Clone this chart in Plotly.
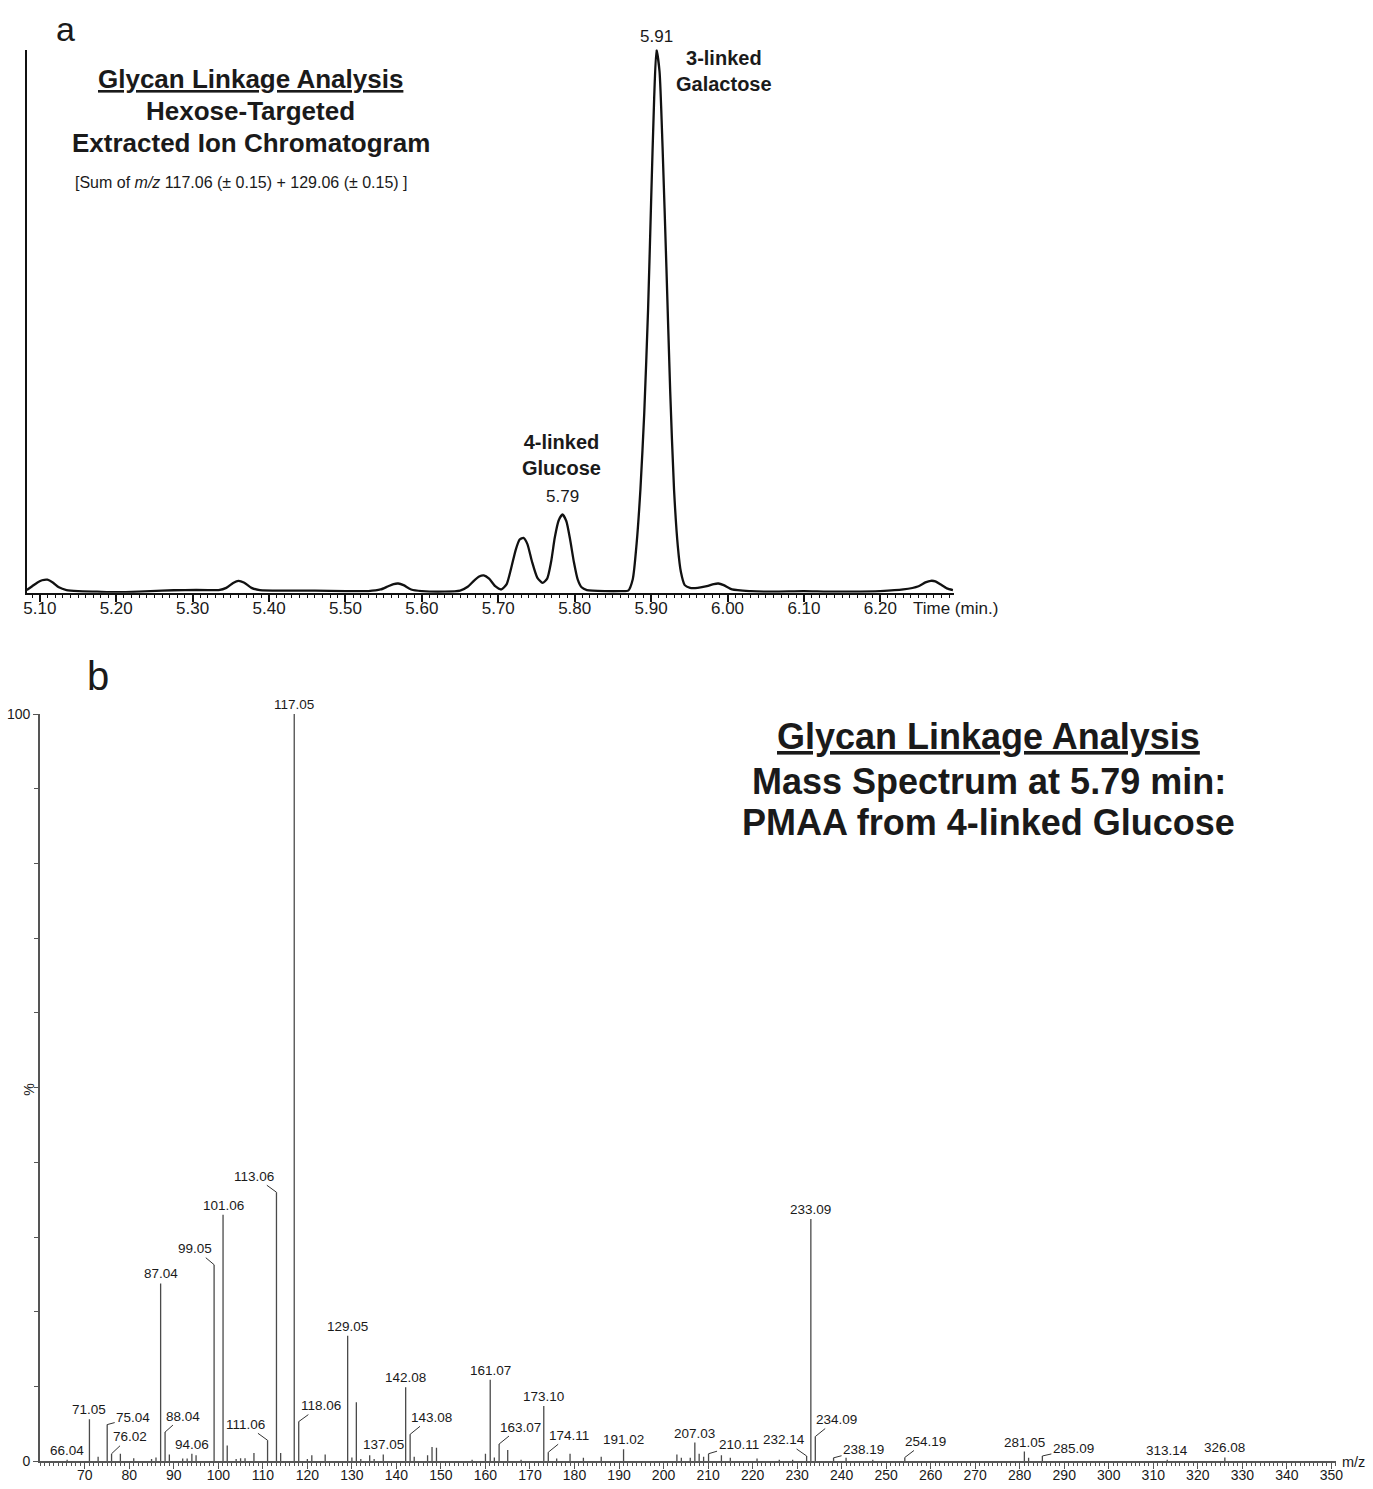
import plotly.graph_objects as go

# ---------------- data: chromatogram (panel a) ----------------
rt_min = [5.083, 5.090, 5.097, 5.103, 5.110, 5.117, 5.125, 5.135, 5.150, 5.175, 5.200, 5.230,
          5.260, 5.290, 5.320, 5.334, 5.344, 5.353, 5.360, 5.367, 5.377, 5.388, 5.420, 5.460,
          5.500, 5.530, 5.546, 5.556, 5.563, 5.569, 5.576, 5.586, 5.600, 5.630, 5.650, 5.660,
          5.668, 5.675, 5.681, 5.688, 5.696, 5.704, 5.711, 5.717, 5.723, 5.728, 5.733, 5.738,
          5.744, 5.751, 5.758, 5.764, 5.769, 5.774, 5.779, 5.784, 5.789, 5.794, 5.799, 5.804,
          5.809, 5.816, 5.840, 5.860, 5.870, 5.876, 5.881, 5.886, 5.891, 5.896, 5.900, 5.904,
          5.907, 5.911, 5.915, 5.920, 5.925, 5.930, 5.935, 5.939, 5.944, 5.951, 5.961, 5.973,
          5.982, 5.988, 5.995, 6.006, 6.030, 6.060, 6.100, 6.130, 6.160, 6.200, 6.230, 6.250,
          6.259, 6.266, 6.272, 6.279, 6.287, 6.295]
rel_abund = [0.5, 1.2, 1.9, 2.3, 2.4, 1.9, 1.0, 0.5, 0.3, 0.2, 0.1, 0.2,
             0.4, 0.5, 0.5, 0.5, 0.9, 1.8, 2.2, 1.9, 0.9, 0.5, 0.4, 0.4,
             0.3, 0.3, 0.6, 1.2, 1.6, 1.7, 1.4, 0.6, 0.3, 0.2, 0.4, 1.1,
             2.2, 3.0, 3.2, 2.6, 1.2, 0.6, 1.6, 4.6, 8.0, 9.8, 10.1, 9.0,
             5.8, 2.8, 1.8, 2.6, 5.6, 10.2, 13.3, 14.4, 13.2, 9.8, 5.6, 2.4,
             1.0, 0.5, 0.3, 0.3, 0.4, 2.5, 9.0, 19.0, 33.0, 52.0, 72.0, 91.0,
             100.0, 96.0, 82.0, 60.0, 37.0, 19.0, 8.5, 3.8, 1.4, 0.9, 0.9, 1.2,
             1.6, 1.7, 1.4, 0.6, 0.3, 0.2, 0.3, 0.2, 0.2, 0.3, 0.6, 1.2,
             1.9, 2.2, 2.1, 1.5, 0.8, 0.5]
rt_tick_vals = [5.10, 5.20, 5.30, 5.40, 5.50, 5.60, 5.70, 5.80, 5.90, 6.00, 6.10, 6.20]
rt_tick_text = ["5.10", "5.20", "5.30", "5.40", "5.50", "5.60", "5.70", "5.80", "5.90", "6.00", "6.10", "6.20"]

# ---------------- data: mass spectrum (panel b) ----------------
ms_mz = [66.04, 71.05, 73, 75.04, 76.02, 78, 81, 85, 86, 87.04, 88.04, 89, 92, 93, 94.06, 95,
         99.05, 101.06, 102, 104, 105, 106, 108, 111.06, 113.06, 114, 117.05, 118.06, 120, 121,
         124, 129.05, 130, 131, 132, 134, 135, 137.05, 142.08, 143.08, 144, 147, 148, 149,
         157, 160, 161.07, 162, 163.07, 165, 168, 173.10, 174.11, 176, 179, 182, 186, 191.02,
         203, 204, 206, 207.03, 208, 209, 210.11, 213, 215, 221, 226, 229, 232.14, 233.09,
         234.09, 238.19, 241, 247, 254.19, 281.05, 282, 285.09, 313.14, 326.08]
ms_int = [0.2, 5.6, 0.6, 4.9, 1.0, 1.0, 0.4, 0.3, 0.5, 23.8, 3.9, 0.9, 0.35, 0.35, 1.0, 0.8,
          26.3, 33.0, 2.1, 0.3, 0.4, 0.4, 1.1, 2.8, 36.0, 1.1, 100.0, 5.3, 0.3, 0.8,
          0.9, 16.8, 0.5, 7.9, 0.3, 0.8, 0.3, 0.9, 9.9, 3.6, 0.6, 0.8, 1.9, 1.8,
          0.2, 1.0, 10.9, 0.5, 2.3, 1.5, 0.2, 7.4, 1.2, 0.35, 1.0, 0.45, 0.6, 1.6,
          0.9, 0.45, 0.45, 2.5, 1.0, 0.6, 1.0, 0.8, 0.45, 0.35, 0.2, 0.2, 0.7, 32.4,
          3.3, 0.45, 0.45, 0.2, 0.5, 1.3, 0.45, 0.7, 0.2, 0.5]
ms_labels = ["66.04", "71.05", "75.04", "76.02", "87.04", "88.04", "94.06", "99.05", "101.06",
             "111.06", "113.06", "117.05", "118.06", "129.05", "137.05", "142.08", "143.08",
             "161.07", "163.07", "173.10", "174.11", "191.02", "207.03", "210.11", "232.14",
             "233.09", "234.09", "238.19", "254.19", "281.05", "285.09", "313.14", "326.08"]
mz_tick_vals = list(range(70, 351, 10))

# ---------------- layout helpers (target pixel -> paper) ----------------
W, H = 1373, 1489

def page_x(x):
    return x / 0.9939 - 3.18

def page_y(y):
    return y * 1.01316 - 8.7

def px(x):
    return page_x(x) / W

def py(y):
    return 1 - page_y(y) / H

def pyp(p):                 # direct page pixel -> paper
    return 1 - p / H

FONT = "Liberation Sans, Arial, Helvetica, sans-serif"
INK = "#1a1a1a"

# leader-line offsets (pixels) for labels drawn beside their peak
leader = {
    "75.04": (26, -7), "76.02": (18, -17), "88.04": (18, -16), "99.05": (-19, -16),
    "111.06": (-22, -16), "113.06": (-22, -16), "118.06": (22, -16), "143.08": (21, -17),
    "163.07": (21, -17), "174.11": (21, -17), "210.11": (30, -9), "232.14": (-23, -16),
    "234.09": (21, -17), "238.19": (30, -8), "254.19": (21, -16), "285.09": (31, -7),
}

fig = go.Figure()

fig.add_trace(go.Scatter(
    x=rt_min, y=rel_abund, mode="lines", xaxis="x", yaxis="y", cliponaxis=False,
    line=dict(color="#111111", width=2.3, shape="spline", smoothing=0.6),
    hoverinfo="skip", showlegend=False))

xs, ys = [], []
for m, v in zip(ms_mz, ms_int):
    xs += [m, m, None]
    ys += [0, v, None]
fig.add_trace(go.Scatter(
    x=xs, y=ys, mode="lines", xaxis="x2", yaxis="y2", cliponaxis=False,
    line=dict(color="#4a4a4a", width=1.3), hoverinfo="skip", showlegend=False))

ann = []
def txt(x, y, t, size, **kw):
    d = dict(x=px(x), y=py(y), xref="paper", yref="paper", text=t, showarrow=False,
             font=dict(family=FONT, size=size, color=INK),
             xanchor="center", yanchor="middle")
    d.update(kw)
    ann.append(d)

# panel a texts
ann.append(dict(x=px(66), y=pyp(0.5), xref="paper", yref="paper", text="a", showarrow=False,
                xanchor="center", yanchor="top", font=dict(family=FONT, size=34, color=INK)))
txt(251, 79, "<u><b>Glycan Linkage Analysis</b></u>", 26)
txt(251, 111, "<b>Hexose-Targeted</b>", 26)
txt(251, 143, "<b>Extracted Ion Chromatogram</b>", 26)
txt(242, 183, "[Sum of <i>m/z</i> 117.06 (± 0.15) + 129.06 (± 0.15) ]", 16)
txt(725, 71, "<b>3-linked</b><br><b>Galactose</b>", 20)
txt(562, 455, "<b>4-linked</b><br><b>Glucose</b>", 20)
txt(957, 608, "Time (min.)", 17)
ann.append(dict(x=5.907, y=100, xref="x", yref="y", text="5.91", showarrow=False,
                yanchor="bottom", yshift=2, font=dict(family=FONT, size=17, color=INK)))
ann.append(dict(x=5.784, y=14.4, xref="x", yref="y", text="5.79", showarrow=False,
                yanchor="bottom", yshift=7, font=dict(family=FONT, size=17, color=INK)))

# panel b texts
txt(98, 675, "b", 40)
txt(990, 735, "<u><b>Glycan Linkage Analysis</b></u>", 36)
txt(990, 780, "<b>Mass Spectrum at 5.79 min:</b>", 36)
txt(990, 821, "<b>PMAA from 4-linked Glucose</b>", 36)
txt(29, 1088, "%", 14, textangle=-90)
ann.append(dict(x=1360 / W, y=pyp(1470), xref="paper", yref="paper", text="m/z", showarrow=False,
                xanchor="center", yanchor="middle", font=dict(family=FONT, size=14.5, color=INK)))

for lab in ms_labels:
    m = float(lab)
    idx = min(range(len(ms_mz)), key=lambda k: abs(ms_mz[k] - m))
    v = ms_int[idx]
    f = dict(family=FONT, size=13.5, color=INK)
    if lab in leader:
        ax, ay = leader[lab]
        ann.append(dict(x=m, y=v, xref="x2", yref="y2", text=lab, showarrow=True,
                        arrowhead=0, arrowwidth=1, arrowcolor="#333333",
                        ax=ax, ay=ay, font=f, standoff=0))
    else:
        ann.append(dict(x=m, y=v, xref="x2", yref="y2", text=lab, showarrow=False,
                        yanchor="bottom", yshift=0, font=f))

fig.update_layout(
    width=W, height=H, margin=dict(l=0, r=0, t=0, b=0),
    paper_bgcolor="white", plot_bgcolor="white", showlegend=False,
    annotations=ann,
    xaxis=dict(domain=[px(27), px(955)], anchor="y", range=[5.083, 6.296],
               showline=True, linecolor="#111111", linewidth=2, showgrid=False, zeroline=False,
               tickmode="array", tickvals=rt_tick_vals, ticktext=rt_tick_text,
               ticks="outside", ticklen=7, tickwidth=1.5, tickcolor="#111111",
               ticklabelstandoff=-8,
               minor=dict(dtick=0.01, tick0=5.10, ticks="outside", ticklen=3.5,
                          tickwidth=1, tickcolor="#111111", showgrid=False),
               tickfont=dict(family=FONT, size=17, color=INK)),
    yaxis=dict(domain=[py(592), py(50)], anchor="x", range=[0, 100],
               showline=True, linecolor="#111111", linewidth=2, showgrid=False, zeroline=False,
               ticks="", showticklabels=False),
    xaxis2=dict(domain=[px(40), px(1338)], anchor="y2", range=[59.9, 351.1],
                showline=True, linecolor="#555555", linewidth=1.5, showgrid=False, zeroline=False,
                tickmode="array", tickvals=mz_tick_vals,
                ticks="outside", ticklen=6, tickwidth=1, tickcolor="#555555",
                ticklabelstandoff=-6,
                minor=dict(dtick=1, tick0=60, ticks="outside", ticklen=3,
                           tickwidth=1, tickcolor="#555555", showgrid=False),
                tickfont=dict(family=FONT, size=14, color=INK)),
    yaxis2=dict(domain=[pyp(1469), py(713)], anchor="x2", range=[0, 100],
                showline=True, linecolor="#555555", linewidth=1.5, showgrid=False, zeroline=False,
                tickmode="array", tickvals=[0, 100], ticktext=["0", "100"],
                ticks="outside", ticklen=5, tickwidth=1, tickcolor="#555555",
                minor=dict(dtick=10, tick0=0, ticks="outside", ticklen=4,
                           tickwidth=1, tickcolor="#555555", showgrid=False),
                tickfont=dict(family=FONT, size=14, color=INK)),
)

fig.write_html(
    "out.html",
    config={"displayModeBar": False},
    post_script="document.body.style.margin='0';document.documentElement.style.overflow='hidden';",
)
